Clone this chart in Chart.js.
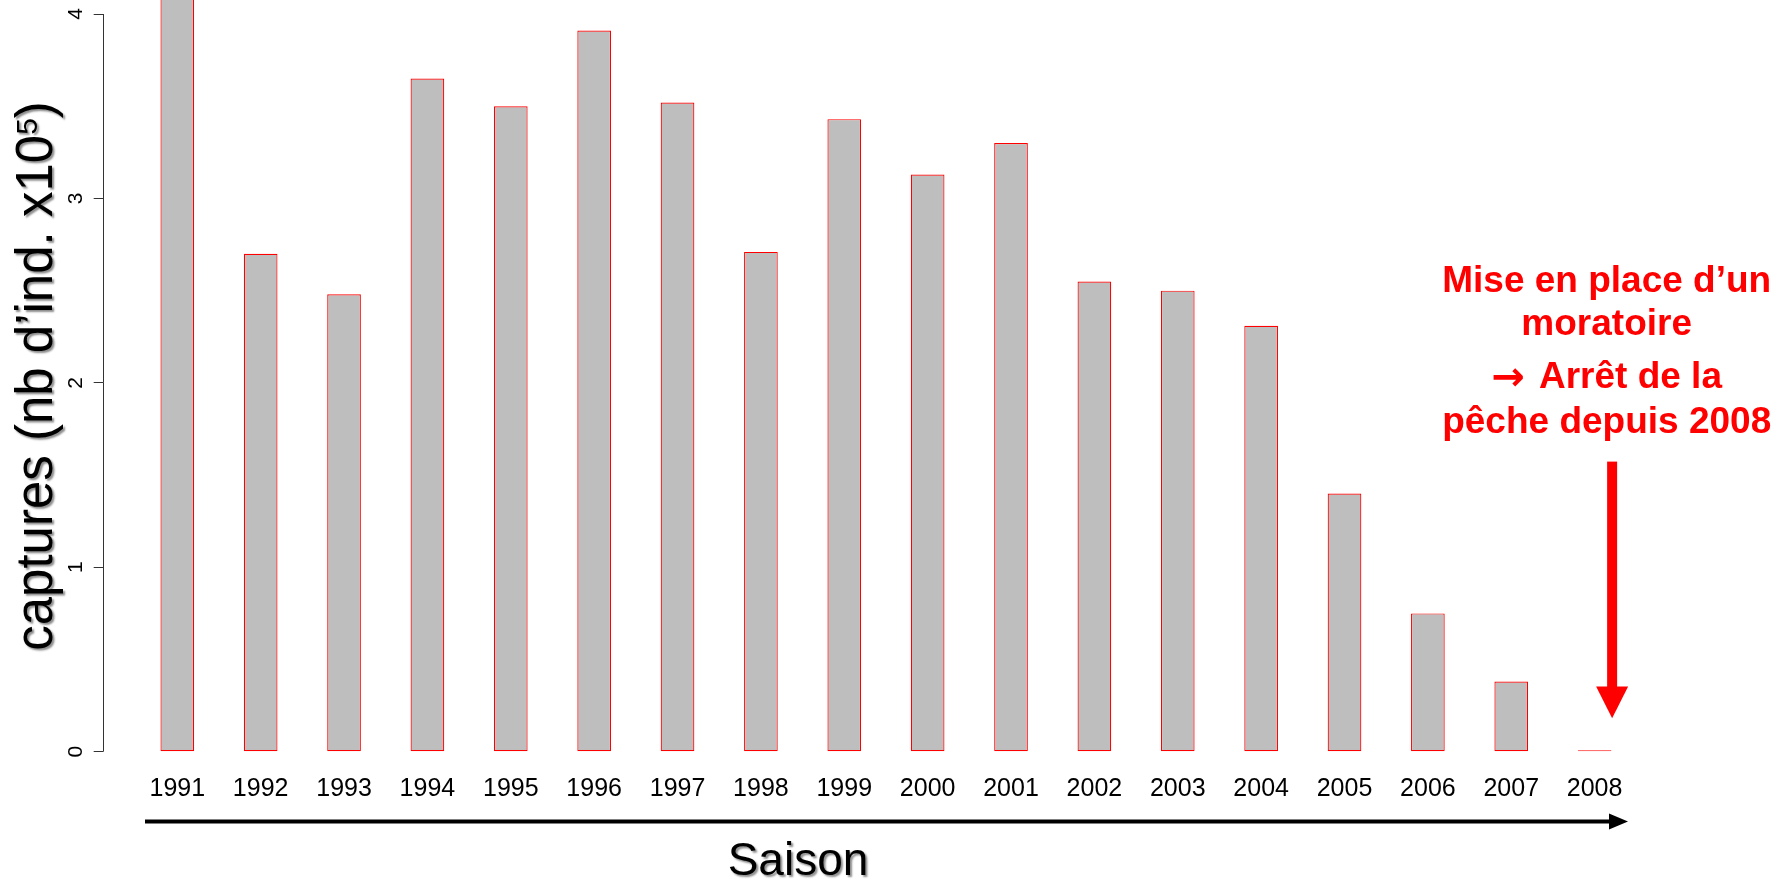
<!DOCTYPE html>
<html><head><meta charset="utf-8">
<script src="https://cdn.jsdelivr.net/npm/chart.js@4.4.1/dist/chart.umd.min.js"></script>
<style>html,body{margin:0;padding:0;background:#fff;} canvas{display:block;}</style>
</head><body>
<canvas id="c" width="1787" height="882"></canvas>
<script>
// ---- data ----
const years = ['1991','1992','1993','1994','1995','1996','1997','1998','1999','2000','2001','2002','2003','2004','2005','2006','2007','2008'];
const captures = [4.25, 2.70, 2.48, 3.65, 3.50, 3.91, 3.52, 2.71, 3.43, 3.13, 3.30, 2.55, 2.50, 2.31, 1.40, 0.75, 0.38, 0.008];
const yTickValues = [0, 1, 2, 3, 4];
const yTitleMain = 'captures (nb d\u2019ind. x10';
const yTitleSup = '5';
const yTitleEnd = ')';
const xTitle = 'Saison';
const noteArrow = '\u2192';
const noteLines = ['Mise en place d\u2019un', 'moratoire', 'Arr\u00eat de la', 'p\u00eache depuis 2008'];

const FONT = '"Liberation Sans", Arial, Helvetica, sans-serif';

const decor = {
  id: 'decor',
  afterDraw(chart) {
    const ctx = chart.ctx;
    const ys = chart.scales.y, xs = chart.scales.x;
    const left = chart.chartArea.left;
    ctx.save();
    // y axis line from 0 to 4
    ctx.strokeStyle = '#333';
    ctx.lineWidth = 1;
    ctx.beginPath();
    const xl = Math.round(left) + 0.5;
    ctx.moveTo(xl, ys.getPixelForValue(yTickValues[0]));
    ctx.lineTo(xl, ys.getPixelForValue(yTickValues[yTickValues.length - 1]));
    ctx.stroke();
    // y tick labels (rotated, parallel to axis)
    ctx.fillStyle = '#000';
    ctx.font = '21px ' + FONT;
    ctx.textAlign = 'center';
    ctx.textBaseline = 'alphabetic';
    yTickValues.forEach(v => {
      ctx.save();
      ctx.translate(81.5, ys.getPixelForValue(v));
      ctx.rotate(-Math.PI / 2);
      ctx.fillText(String(v), 0, 0);
      ctx.restore();
    });
    // y title with shadow
    ctx.save();
    ctx.shadowColor = 'rgba(0,0,0,0.45)';
    ctx.shadowOffsetX = 2; ctx.shadowOffsetY = 2; ctx.shadowBlur = 2;
    ctx.translate(52, 376);
    ctx.rotate(-Math.PI / 2);
    ctx.textAlign = 'left';
    ctx.font = '51px ' + FONT;
    const w1 = ctx.measureText(yTitleMain).width;
    const w3 = ctx.measureText(yTitleEnd).width;
    ctx.font = '30px ' + FONT;
    const w2 = ctx.measureText(yTitleSup).width;
    let x0 = -(w1 + w2 + w3) / 2;
    ctx.font = '51px ' + FONT;
    ctx.fillText(yTitleMain, x0, 0);
    ctx.font = '30px ' + FONT;
    ctx.fillText(yTitleSup, x0 + w1, -15);
    ctx.font = '51px ' + FONT;
    ctx.fillText(yTitleEnd, x0 + w1 + w2, 0);
    ctx.restore();
    // x arrow
    ctx.fillStyle = '#000';
    ctx.fillRect(145, 819.5, 1611 - 145, 4);
    ctx.beginPath();
    ctx.moveTo(1609, 813.5);
    ctx.lineTo(1628, 821.5);
    ctx.lineTo(1609, 829.5);
    ctx.closePath();
    ctx.fill();
    // x title
    ctx.save();
    ctx.shadowColor = 'rgba(0,0,0,0.45)';
    ctx.shadowOffsetX = 2; ctx.shadowOffsetY = 2; ctx.shadowBlur = 2;
    ctx.font = '46px ' + FONT;
    ctx.textAlign = 'center';
    ctx.fillText(xTitle, 798, 875);
    ctx.restore();
    // red annotation
    ctx.fillStyle = '#FF0000';
    ctx.font = 'bold 37px ' + FONT;
    ctx.textAlign = 'center';
    const cx = 1606.7;
    ctx.fillText(noteLines[0], cx, 291.7);
    ctx.fillText(noteLines[1], cx, 335);
    ctx.fillText(noteLines[3], cx, 433.3);
    // line 3: bold arrow glyph + text
    ctx.textAlign = 'left';
    const tw = ctx.measureText(noteLines[2]).width;
    ctx.font = 'bold 40px "DejaVu Sans", sans-serif';
    const aw = ctx.measureText(noteArrow).width;
    const gap = 14;
    const startX = cx - (aw + gap + tw) / 2;
    ctx.fillText(noteArrow, startX, 390);
    ctx.font = 'bold 37px ' + FONT;
    ctx.fillText(noteLines[2], startX + aw + gap, 388);
    // red vertical arrow
    const ax = xs.getPixelForValue(17.21);
    const aTop = ys.getPixelForValue(1.573);
    const aBase = ys.getPixelForValue(0.353);
    const aTip = ys.getPixelForValue(0.181);
    ctx.fillRect(ax - 5, aTop, 10, aBase - aTop + 1);
    ctx.beginPath();
    ctx.moveTo(ax - 16, aBase);
    ctx.lineTo(ax + 16, aBase);
    ctx.lineTo(ax, aTip);
    ctx.closePath();
    ctx.fill();
    ctx.restore();
  }
};

new Chart(document.getElementById('c'), {
  type: 'bar',
  data: {
    datasets: [{
      data: years.map((y, i) => ({ x: i, y: captures[i] })),
      backgroundColor: '#BEBEBE',
      borderColor: '#FF0000',
      borderWidth: 1.2,
      borderSkipped: false,
      barPercentage: 0.404,
      categoryPercentage: 1
    }]
  },
  options: {
    responsive: false,
    devicePixelRatio: 1,
    animation: false,
    events: [],
    layout: { padding: { left: 0, right: 87, top: 0, bottom: 0 } },
    plugins: { legend: { display: false }, tooltip: { enabled: false }, title: { display: false } },
    scales: {
      x: {
        type: 'linear',
        offset: false,
        min: -0.8948,
        max: 18.264,
        grid: { display: false, drawTicks: false, offset: false },
        border: { display: false },
        afterBuildTicks: s => { s.ticks = years.map((y, i) => ({ value: i })); },
        afterFit: s => { s.height = 130.3; },
        ticks: {
          padding: 22,
          autoSkip: false,
          maxRotation: 0,
          minRotation: 0,
          color: '#000',
          font: { family: FONT, size: 25 },
          callback: v => years[v]
        }
      },
      y: {
        min: 0,
        max: 4.076,
        afterBuildTicks: s => { s.ticks = yTickValues.map(v => ({ value: v })); },
        afterFit: s => { s.width = 102.7; },
        grid: { display: true, drawOnChartArea: false, drawTicks: true, tickLength: 9, color: '#333', lineWidth: 1 },
        border: { display: false },
        ticks: { display: false }
      }
    }
  },
  plugins: [decor]
});
</script>
</body></html>
